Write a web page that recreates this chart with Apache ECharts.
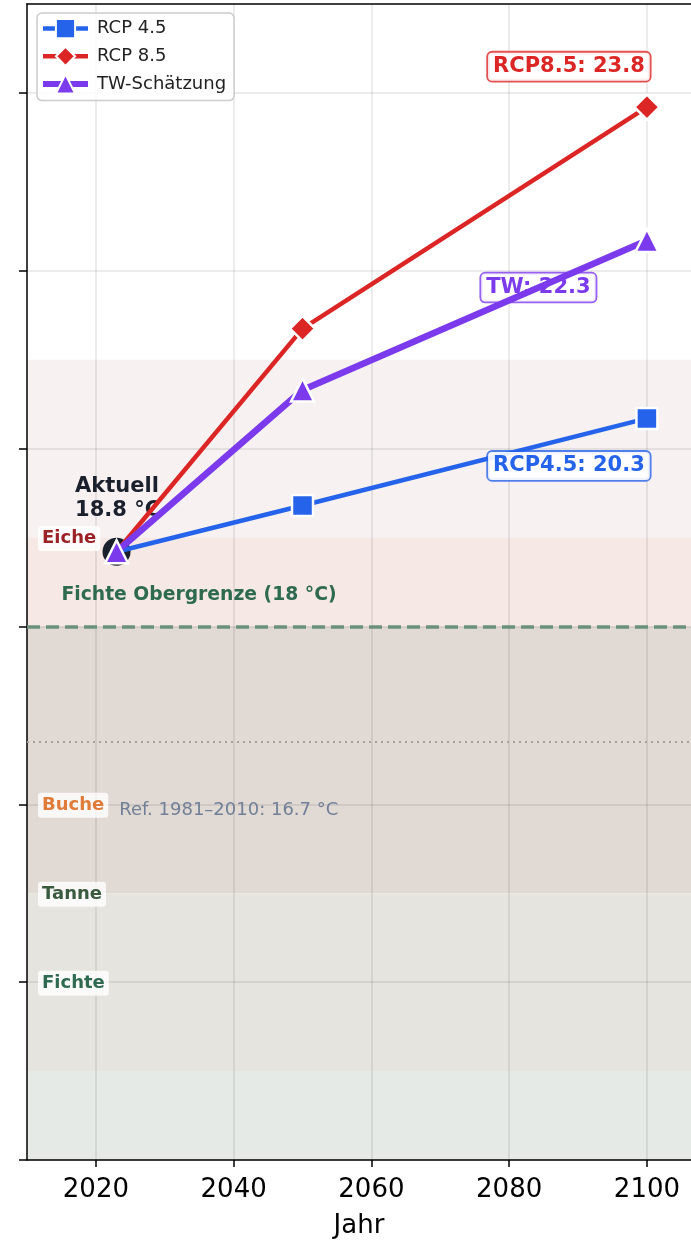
<!DOCTYPE html>
<html>
<head>
<meta charset="utf-8">
<script src="https://cdn.jsdelivr.net/npm/echarts@6/dist/echarts.min.js"></script>
<style>
  html, body { margin: 0; padding: 0; background: #fff; }
  #chart { width: 691px; height: 1244px; }
</style>
</head>
<body>
<div id="chart"></div>
<script>
// Werte
var years = [2023, 2050, 2100];
var rcp45 = [18.84, 19.36, 20.34];
var rcp85 = [18.84, 21.35, 23.84];
var twEst = [18.84, 20.66, 22.34];
var current = [2023, 18.84];
var fichteMax = 18;
var refTemp = 16.7;
var speciesNames = ['Eiche', 'Buche', 'Tanne', 'Fichte'];
var speciesLabelY = [19, 16, 15, 14];
var bandRanges = [[19, 21], [18, 19], [15, 18], [13, 15], [12, 13]];
var xTicks = [2020, 2040, 2060, 2080, 2100];
var yTicks = [12, 14, 16, 18, 20, 22, 24];

// Farben / Stil
var bandColors = ['#f7f1f1', '#f6e8e5', '#e1d9d4', '#e6e4de', '#e5eae7'];
var speciesColors = ['#9b2226', '#e07b39', '#3a5a40', '#2d6a4f'];
var cBlue = '#2563eb', cRed = '#dc2626', cPurple = '#7c3aed', cDark = '#1a202c';
var font = 'DejaVu Sans';

function seriesData(vals, firstMarker) {
    return years.map(function (y, i) {
        var item = { value: [y, vals[i]] };
        if (i === 0 && !firstMarker) item.symbol = 'none';
        return item;
    });
}

function boxLabel(text, color, border, offset) {
    return {
        show: true,
        position: 'inside',
        offset: offset,
        formatter: text,
        color: color,
        fontFamily: font,
        fontWeight: 'bold',
        fontSize: 21,
        lineHeight: 22,
        backgroundColor: 'rgba(255,255,255,0.9)',
        borderColor: border,
        borderWidth: 1.8,
        borderRadius: 4,
        padding: [3, 5]
    };
}

var hidden = { color: 'rgba(0,0,0,0)' };

var bandData = bandRanges.map(function (r, i) {
    return [{ yAxis: r[0], itemStyle: { color: bandColors[i] } }, { yAxis: r[1] }];
});

var speciesPoints = speciesNames.map(function (n, i) {
    return {
        coord: [2011.6, speciesLabelY[i]],
        label: {
            show: true, position: 'inside', align: 'left', verticalAlign: 'middle',
            offset: [0, 1],
            formatter: n, color: speciesColors[i], fontFamily: font,
            fontWeight: 'bold', fontSize: 18, lineHeight: 19,
            backgroundColor: 'rgba(255,255,255,0.8)', borderRadius: 3, padding: [3, 4]
        }
    };
});

var option = {
    animation: false,
    textStyle: { fontFamily: font },
    grid: { left: 27, right: 0, top: 4, bottom: 82 },
    legend: {
        data: [
            { name: 'RCP 4.5', lineStyle: { width: 4.5 } },
            { name: 'RCP 8.5', lineStyle: { width: 4.5 } },
            { name: 'TW-Schätzung', lineStyle: { width: 6 } }
        ],
        orient: 'vertical',
        left: 37,
        top: 13,
        padding: [5, 8, 6, 3],
        itemWidth: 45,
        itemHeight: 24,
        itemGap: 6.5,
        backgroundColor: 'rgba(255,255,255,0.8)',
        borderColor: '#cccccc',
        borderWidth: 1.5,
        borderRadius: 5,
        textStyle: { fontSize: 18, color: '#222', fontFamily: font, padding: [0, 0, 0, 4] }
    },
    xAxis: [{
        type: 'value',
        min: 2010,
        max: 2106.4,
        z: 1,
        name: 'Jahr',
        nameLocation: 'middle',
        nameGap: 53,
        nameTextStyle: { fontSize: 26, color: '#000', fontFamily: font },
        axisLine: { lineStyle: { color: '#000', width: 1.5 } },
        axisTick: { length: 7, lineStyle: { color: '#000', width: 1.5 }, customValues: xTicks },
        axisLabel: {
            fontSize: 26, color: '#000', margin: 17, customValues: xTicks,
            formatter: function (v) { return String(v); }
        },
        splitLine: { show: true, lineStyle: { color: 'rgba(0,0,0,0.1)', width: 1.5 } }
    }, {
        type: 'value',
        position: 'top',
        min: 2010,
        max: 2106.4,
        z: 1,
        axisLine: { lineStyle: { color: '#000', width: 1.5 } },
        axisTick: { show: false },
        axisLabel: { show: false },
        splitLine: { show: false }
    }],
    yAxis: {
        type: 'value',
        min: 12,
        max: 25,
        interval: 2,
        z: 1,
        axisLine: { show: true, lineStyle: { color: '#000', width: 1.5 } },
        axisTick: { show: true, length: 8, lineStyle: { color: '#000', width: 1.5 }, customValues: yTicks },
        axisLabel: { show: false },
        splitLine: { show: true, lineStyle: { color: 'rgba(0,0,0,0.1)', width: 1.5 } }
    },
    series: [
        {
            name: 'Aktuell',
            type: 'scatter',
            z: 1.8,
            data: [current],
            symbol: 'circle',
            symbolSize: 28,
            itemStyle: { color: cDark, opacity: 1 },
            label: {
                show: true,
                position: 'inside',
                align: 'left',
                verticalAlign: 'middle',
                offset: [-41.5, -53],
                formatter: 'Aktuell\n' + current[1].toFixed(1) + ' °C',
                color: cDark,
                fontFamily: font,
                fontWeight: 'bold',
                fontSize: 21,
                lineHeight: 24
            }
        },
        {
            name: 'RCP 4.5',
            type: 'line',
            data: seriesData(rcp45, false),
            symbol: 'rect',
            symbolSize: 21,
            lineStyle: { color: cBlue, width: 4.5 },
            itemStyle: { color: cBlue, borderColor: '#fff', borderWidth: 2.5 },
            markArea: { silent: true, z: 0.5, data: bandData },
            markLine: {
                silent: true,
                symbol: 'none',
                z: 1.2,
                label: { show: false },
                data: [
                    { yAxis: fichteMax, lineStyle: { color: '#6b917b', width: 3.5, type: [13, 6] } },
                    { yAxis: refTemp, lineStyle: { color: '#a3a3a3', width: 2, type: [2, 4] } }
                ]
            },
            markPoint: {
                symbol: 'circle',
                symbolSize: 1,
                itemStyle: hidden,
                data: [
                    { coord: [2100, rcp45[2]], label: boxLabel('RCP4.5: ' + rcp45[2].toFixed(1), cBlue, 'rgba(37,99,235,0.8)', [-78, 47.5]) },
                    {
                        coord: [2015, fichteMax],
                        label: {
                            show: true, position: 'inside', align: 'left', verticalAlign: 'middle',
                            offset: [0, -31.5],
                            formatter: 'Fichte Obergrenze (' + fichteMax + ' °C)',
                            color: '#2d6a4f', fontFamily: font, fontWeight: 'bold', fontSize: 18.75
                        }
                    },
                    {
                        coord: [2023.4, refTemp],
                        label: {
                            show: true, position: 'inside', align: 'left', verticalAlign: 'middle',
                            offset: [0, 68],
                            formatter: 'Ref. 1981–2010: ' + refTemp + ' °C',
                            color: '#718096', fontFamily: font, fontSize: 18
                        }
                    }
                ].concat(speciesPoints)
            }
        },
        {
            name: 'RCP 8.5',
            type: 'line',
            data: seriesData(rcp85, false),
            symbol: 'diamond',
            symbolSize: 25,
            lineStyle: { color: cRed, width: 4.5 },
            itemStyle: { color: cRed, borderColor: '#fff', borderWidth: 2.5 },
            markPoint: {
                symbol: 'circle',
                symbolSize: 1,
                itemStyle: hidden,
                data: [
                    { coord: [2100, rcp85[2]], label: boxLabel('RCP8.5: ' + rcp85[2].toFixed(1), cRed, 'rgba(220,38,38,0.8)', [-78, -40.5]) }
                ]
            }
        },
        {
            name: 'TW-Schätzung',
            type: 'line',
            data: seriesData(twEst, true),
            symbol: 'triangle',
            symbolSize: 23,
            lineStyle: { color: cPurple, width: 6.5 },
            itemStyle: { color: cPurple, borderColor: '#fff', borderWidth: 2.5 },
            markPoint: {
                z: 1.5,
                symbol: 'circle',
                symbolSize: 1,
                itemStyle: hidden,
                data: [
                    { coord: [2100, twEst[2]], label: boxLabel('TW: ' + twEst[2].toFixed(1), cPurple, 'rgba(124,58,237,0.8)', [-108.5, 47]) }
                ]
            }
        }
    ]
};

var chart = echarts.init(document.getElementById('chart'));
chart.setOption(option);
</script>
</body>
</html>
